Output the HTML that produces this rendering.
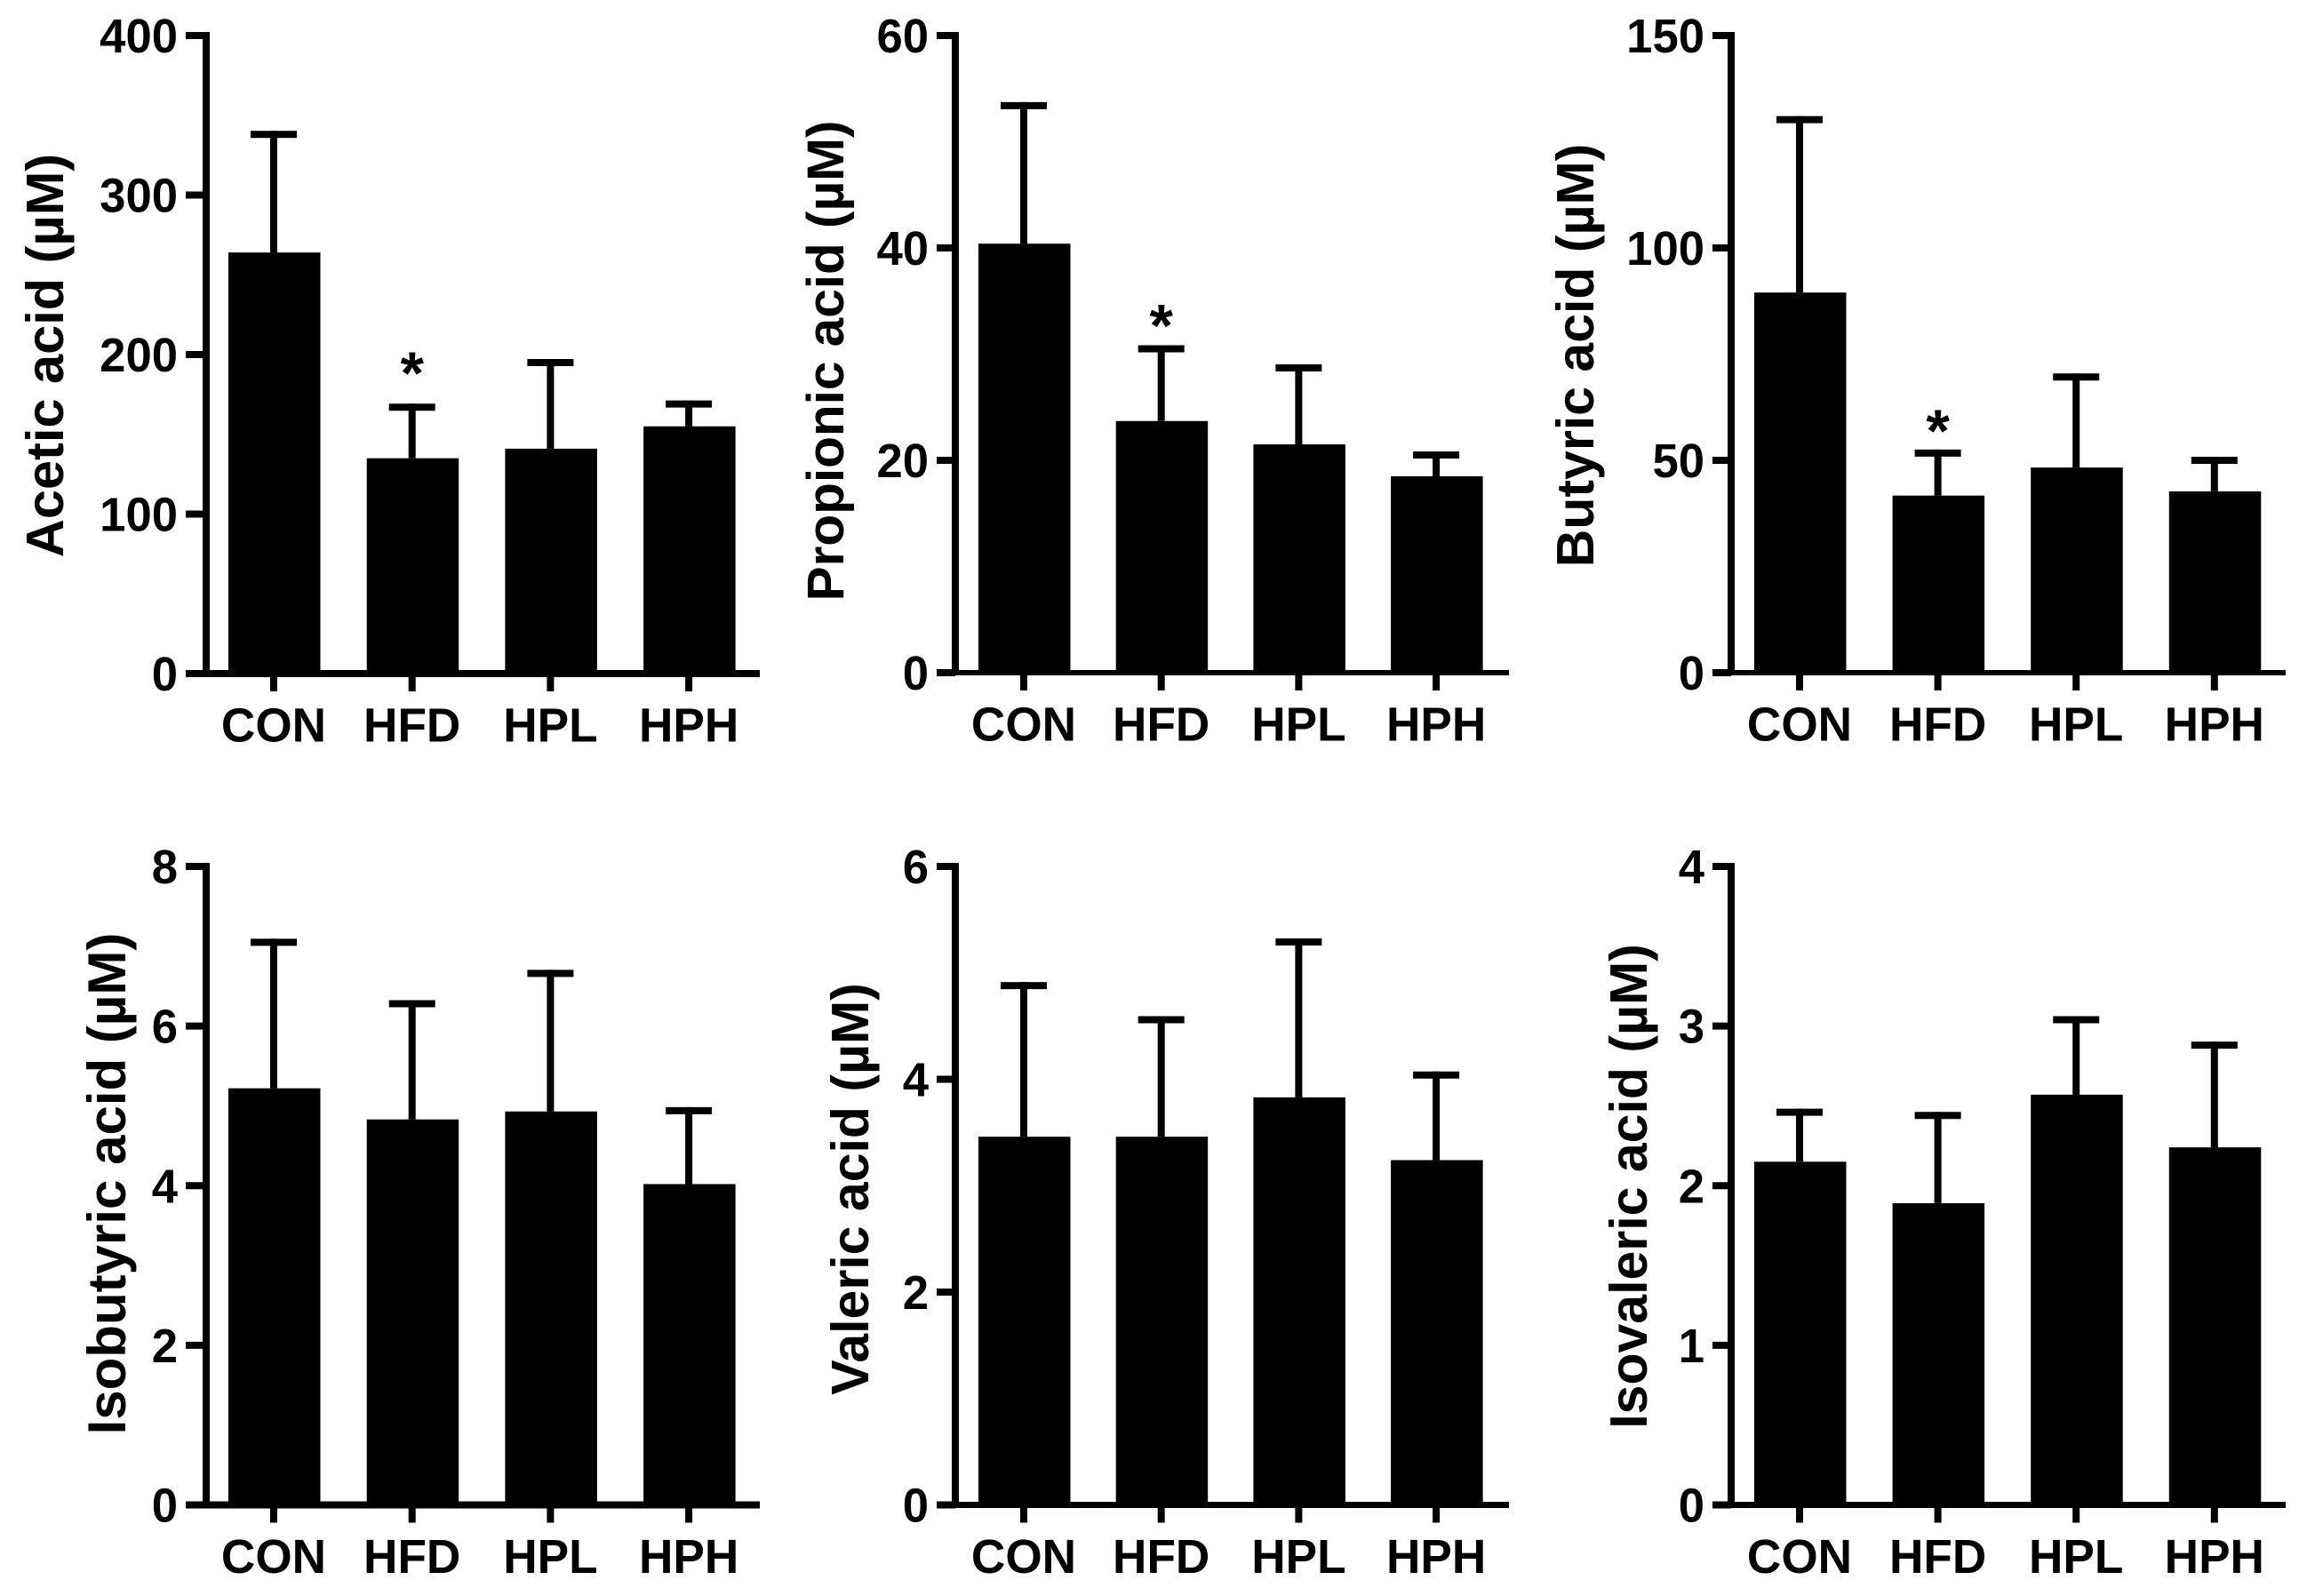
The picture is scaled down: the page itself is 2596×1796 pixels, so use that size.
<!DOCTYPE html>
<html lang="en">
<head>
<meta charset="utf-8">
<title>Short-chain fatty acids by group</title>
<style>
html,body{margin:0;padding:0;background:#fff;}
svg{display:block;}
text{font-family:"Liberation Sans",Arial,sans-serif;font-weight:bold;fill:#000;}
</style>
</head>
<body>
<svg id="figure" xmlns="http://www.w3.org/2000/svg" width="2596" height="1796" viewBox="0 0 2596 1796"></svg>
<script>
const categories = ['CON', 'HFD', 'HPL', 'HPH'];

const aceticMeans = [264, 135, 141, 155];
const aceticErrors = [338, 167, 195, 169];
const aceticTicks = [0, 100, 200, 300, 400];

const propionicMeans = [40.4, 23.7, 21.5, 18.5];
const propionicErrors = [53.4, 30.5, 28.7, 20.5];
const propionicTicks = [0, 20, 40, 60];

const butyricMeans = [89.5, 41.7, 48.3, 42.7];
const butyricErrors = [130.2, 51.7, 69.6, 50];
const butyricTicks = [0, 50, 100, 150];

const isobutyricMeans = [5.22, 4.83, 4.93, 4.02];
const isobutyricErrors = [7.05, 6.28, 6.66, 4.94];
const isobutyricTicks = [0, 2, 4, 6, 8];

const valericMeans = [3.46, 3.46, 3.83, 3.24];
const valericErrors = [4.88, 4.56, 5.29, 4.04];
const valericTicks = [0, 2, 4, 6];

const isovalericMeans = [2.15, 1.89, 2.57, 2.24];
const isovalericErrors = [2.46, 2.44, 3.04, 2.88];
const isovalericTicks = [0, 1, 2, 3, 4];

const NS = 'http://www.w3.org/2000/svg';
const figure = document.getElementById('figure');

function makeLine(parent, x1, y1, x2, y2, width) {
  const el = document.createElementNS(NS, 'line');
  el.setAttribute('x1', x1);
  el.setAttribute('y1', y1);
  el.setAttribute('x2', x2);
  el.setAttribute('y2', y2);
  el.setAttribute('stroke', '#000');
  el.setAttribute('stroke-width', width);
  parent.appendChild(el);
  return el;
}

function makeText(parent, content, x, y, size, anchor, sx, rotate) {
  const el = document.createElementNS(NS, 'text');
  el.textContent = content;
  el.setAttribute('font-size', size);
  el.setAttribute('text-anchor', anchor);
  const r = rotate ? ' rotate(' + rotate + ')' : '';
  el.setAttribute('transform', 'translate(' + x + ',' + y + ')' + r + ' scale(' + sx + ',1)');
  parent.appendChild(el);
  return el;
}

function drawPanel(key, title, means, errors, ticks, box) {
  const maxValue = ticks[ticks.length - 1];
  const yScale = function (v) { return box.base - (v / maxValue) * (box.base - box.top); };
  const xScale = function (i) { return box.first + i * box.step; };

  const g = document.createElementNS(NS, 'g');
  
  
  figure.appendChild(g);

  categories.forEach(function (cat, i) {
    const cx = xScale(i);
    const stem = makeLine(g, cx, yScale(means[i]), cx, yScale(errors[i]) - 4, 8);
    
    
    const cap = makeLine(g, cx - 26, yScale(errors[i]), cx + 26, yScale(errors[i]), 8);
    
    

    const bar = document.createElementNS(NS, 'rect');
    bar.setAttribute('x', cx - 51.5 + 0.5);
    bar.setAttribute('y', yScale(means[i]));
    bar.setAttribute('width', 103.5);
    bar.setAttribute('height', box.base - yScale(means[i]));
    bar.setAttribute('fill', '#000');
    
    
    g.appendChild(bar);

    const tick = makeLine(g, cx, box.base, cx, box.base + 20, 8);
    
    

    const label = makeText(g, cat, cx, box.base + 76.5, 54, 'middle', 0.985);
    
    
  });

  const yAxis = makeLine(g, box.left, box.top - 4, box.left, box.base, 8);
  
  

  const xAxis = makeLine(g, box.tickLeft, box.base, box.right, box.base, box.xWidth);
  
  

  ticks.forEach(function (t) {
    const y = yScale(t);
    const tick = makeLine(g, box.tickLeft, y, box.left, y, 8);
    
    
    const label = makeText(g, String(t), box.tickLeft - 9, y + 19, 54, 'end', 0.975);
    
    
  });

  const axisTitle = makeText(g, title, box.titleX, box.titleY, box.titleSize, 'middle', 1, -90);
  
  

  if (box.star) {
    const star = makeText(g, '*', xScale(1), yScale(errors[1]) - box.star + 34, 68, 'middle', 1);
    
    
  }
}

drawPanel('acetic', 'Acetic acid (µM)', aceticMeans, aceticErrors, aceticTicks,
  {left: 232, tickLeft: 209, right: 855, top: 40, base: 758, first: 308, step: 155.7, xWidth: 8, titleX: 71, titleY: 400, titleSize: 59.5, star: 49});
drawPanel('propionic', 'Propionic acid (µM)', propionicMeans, propionicErrors, propionicTicks,
  {left: 1075, tickLeft: 1054, right: 1698, top: 40, base: 757, first: 1152, step: 154.7, xWidth: 6, titleX: 949, titleY: 406, titleSize: 58.5, star: 37});
drawPanel('butyric', 'Butyric acid (µM)', butyricMeans, butyricErrors, butyricTicks,
  {left: 1948, tickLeft: 1927, right: 2572, top: 40, base: 757, first: 2025, step: 155.6, xWidth: 6, titleX: 1793, titleY: 400, titleSize: 59, star: 36});
drawPanel('isobutyric', 'Isobutyric acid (µM)', isobutyricMeans, isobutyricErrors, isobutyricTicks,
  {left: 232, tickLeft: 209, right: 855, top: 975, base: 1693.5, first: 308, step: 155.7, xWidth: 8, titleX: 141, titleY: 1332, titleSize: 60});
drawPanel('valeric', 'Valeric acid (µM)', valericMeans, valericErrors, valericTicks,
  {left: 1075, tickLeft: 1054, right: 1698, top: 975, base: 1693.5, first: 1152, step: 154.7, xWidth: 7, titleX: 977, titleY: 1338, titleSize: 59});
drawPanel('isovaleric', 'Isovaleric acid (µM)', isovalericMeans, isovalericErrors, isovalericTicks,
  {left: 1948, tickLeft: 1927, right: 2572, top: 975, base: 1693.5, first: 2025, step: 155.6, xWidth: 7, titleX: 1853, titleY: 1335, titleSize: 59});
</script>
</body>
</html>
